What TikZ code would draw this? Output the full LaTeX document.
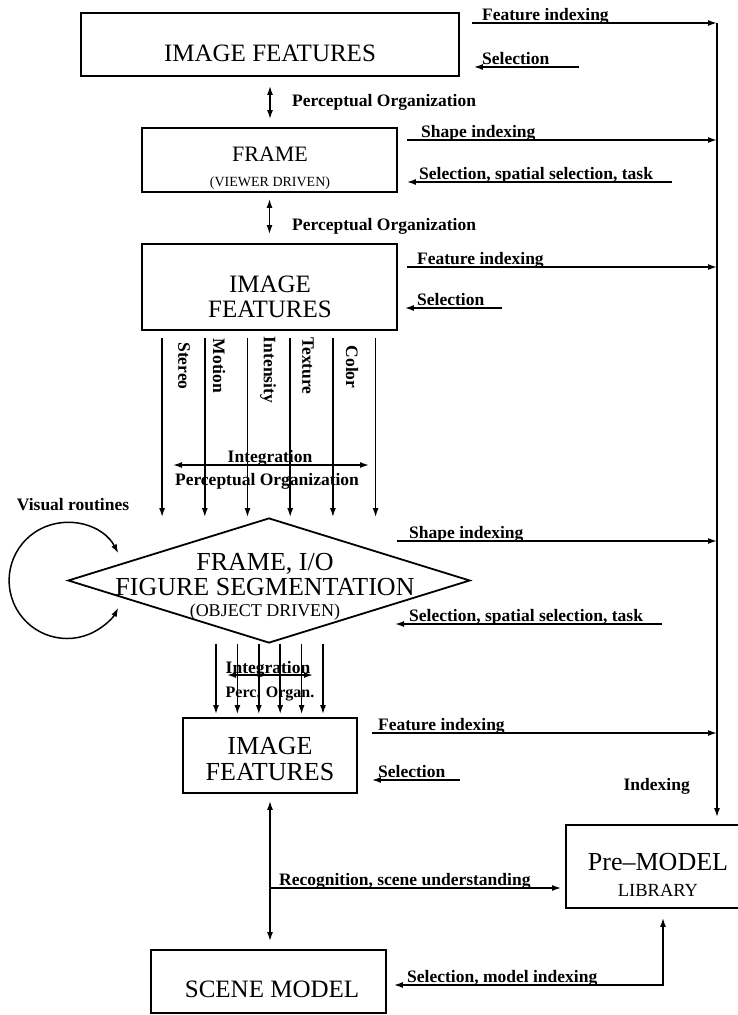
\documentclass[tikz,border=0pt]{standalone}
\usepackage{fontspec}
\setmainfont{Liberation Serif}
\usetikzlibrary{arrows.meta, positioning, shapes.geometric, calc}

\begin{document}
\begin{tikzpicture}[
    x=1pt, y=-1pt,
    box/.style={rectangle, draw, line width=1.8pt, inner sep=0pt},
    big/.style={inner sep=0pt, align=center, font=\fontsize{25}{25}\selectfont},
    lbl/.style={inner sep=0pt, anchor=base west, font=\fontsize{17.5}{19}\selectfont\bfseries},
    clbl/.style={inner sep=0pt, font=\fontsize{17.5}{19}\selectfont\bfseries},
    vlbl/.style={clbl, rotate=-90},
    arr/.style={-{Latex[length=9pt,width=6pt]}, line width=1.5pt},
    darr/.style={{Latex[length=9pt,width=6pt]}-{Latex[length=9pt,width=6pt]}, line width=1.5pt}
  ]
  \useasboundingbox (0,0) rectangle (738,1015);

  % left column: boxes and the diamond
  \node[box, minimum width=378pt, minimum height=63pt] (feat1) at (270,44.5) {};
  \node[big] (feat1t) at (270,53) {IMAGE FEATURES};

  \node[box, minimum width=255pt, minimum height=64pt] (frame) at (269.5,160) {};
  \node[big, font=\fontsize{22}{25}\selectfont] (framet) at (270,168)
    {FRAME\\{\fontsize{14}{16}\selectfont (VIEWER DRIVEN)}};

  \node[box, minimum width=255pt, minimum height=86pt] (feat2) at (269.5,287) {};
  \node[big] (feat2t) at (270,297) {IMAGE\\FEATURES};

  \node[diamond, draw, line width=1.8pt, minimum width=402pt, minimum height=125pt, inner sep=0pt] (seg) at (269,580.5) {};
  \node[big, font=\fontsize{26}{25}\selectfont] (segt) at (265,587)
    {FRAME, I/O\\FIGURE SEGMENTATION\\[-4pt]{\fontsize{18}{20}\selectfont (OBJECT DRIVEN)}};

  \node[box, minimum width=174pt, minimum height=75pt] (feat3) at (270,755.5) {};
  \node[big, font=\fontsize{26}{26}\selectfont] (feat3t) at (270,759.5) {IMAGE\\FEATURES};

  \node[box, minimum width=176pt, minimum height=83pt] (lib) at (654,866.5) {};
  \node[big, font=\fontsize{26}{25.5}\selectfont] (libt) at (658,875)
    {Pre--MODEL\\{\fontsize{18.5}{20}\selectfont LIBRARY}};

  \node[box, minimum width=235pt, minimum height=63pt] (scene) at (268.5,981.5) {};
  \node[big] (scenet) at (272,989) {SCENE MODEL};

  % perceptual organization between the levels
  \draw[darr, shorten <=9pt, shorten >=8pt] (feat1.south) -- (feat1.south |- frame.north);
  \node[lbl] (po1) at (292,106) {Perceptual Organization};
  \draw[darr, shorten <=6pt, shorten >=9pt] (frame.south) -- (frame.south |- feat2.north);
  \node[lbl] (po2) at (292,230) {Perceptual Organization};

  % cues down to the segmentation
  \foreach \i in {0,...,5} {
    \coordinate (cue\i) at ($(feat2.south west)+(21+42.7*\i,0)$);
    \draw[arr, shorten <=7pt] (cue\i) -- (cue\i |- seg.north);
  }
  \node[vlbl] (stereo) at (184,366) {Stereo};
  \node[vlbl] (motion) at (219,366) {Motion};
  \node[vlbl] (intens) at (268,370) {Intensity};
  \node[vlbl] (texture) at (308,366) {Texture};
  \node[vlbl] (color) at (352,367) {Color};

  \coordinate (intl) at (173,465);
  \coordinate (intr) at (369,465);
  \draw[darr] (intl) -- (intr);
  \node[clbl, anchor=base] (integ1) at (270,462) {Integration};
  \node[clbl, anchor=base] (po3) at (267,485) {Perceptual Organization};

  % visual routines loop
  \draw[darr] ([shift={(-28:58)}]seg.west) arc[start angle=-28, end angle=-332, radius=58];
  \node[clbl] (vr) at (73,505) {Visual routines};

  % segmentation down to the last features
  \foreach \i in {0,...,5} {
    \coordinate (sub\i) at ($(seg.south)+(-53+21.4*\i,0)$);
    \draw[arr, shorten >=3pt] (sub\i) -- (sub\i |- feat3.north);
  }
  \coordinate (intsl) at (227,675);
  \coordinate (intsr) at (313,675);
  \draw[darr] (intsl) -- (intsr);
  \node[clbl, anchor=base] (integ2) at (268,673) {Integration};
  \node[clbl, anchor=base, font=\fontsize{16}{18}\selectfont\bfseries] (po4) at (270,697) {Perc. Organ.};

  % indexing bus on the right
  \coordinate (bus) at (717,23);
  \draw[arr, shorten >=7pt] (bus) -- (bus |- lib.north);
  \node[lbl, anchor=base east] (idx) at (690,790) {Indexing};

  \coordinate (fi1) at (472,23);
  \draw[arr] (fi1) -- (fi1 -| bus);
  \node[lbl] (fi1t) at (482,20) {Feature indexing};
  \coordinate (se1) at (579,67);
  \draw[arr, shorten >=14pt] (se1) -- (se1 -| feat1.east);
  \node[lbl] (se1t) at (482,64) {Selection};

  \coordinate (si1) at (407,140);
  \draw[arr] (si1) -- (si1 -| bus);
  \node[lbl] (si1t) at (421,137) {Shape indexing};
  \coordinate (se2) at (672,182);
  \draw[arr, shorten >=9pt] (se2) -- (se2 -| frame.east);
  \node[lbl] (se2t) at (419,179) {Selection, spatial selection, task};

  \coordinate (fi2) at (407,267);
  \draw[arr] (fi2) -- (fi2 -| bus);
  \node[lbl] (fi2t) at (417,264) {Feature indexing};
  \coordinate (se3) at (502,308);
  \draw[arr, shorten >=7pt] (se3) -- (se3 -| feat2.east);
  \node[lbl] (se3t) at (417,305) {Selection};

  \coordinate (si2) at (397,541);
  \draw[arr] (si2) -- (si2 -| bus);
  \node[lbl] (si2t) at (409,538) {Shape indexing};
  \coordinate (se4) at (662,624);
  \coordinate (se4tip) at (395,624);
  \draw[arr] (se4) -- (se4tip);
  \node[lbl] (se4t) at (409,621) {Selection, spatial selection, task};

  \coordinate (fi3) at (372,733);
  \draw[arr] (fi3) -- (fi3 -| bus);
  \node[lbl] (fi3t) at (378,730) {Feature indexing};
  \coordinate (se5) at (460,780);
  \draw[arr, shorten >=14pt] (se5) -- (se5 -| feat3.east);
  \node[lbl] (se5t) at (378,777) {Selection};

  % recognition and scene model
  \draw[darr, shorten <=7pt, shorten >=8pt] (feat3.south) -- (feat3.south |- scene.north);
  \coordinate (rec) at (269,888);
  \draw[arr, shorten >=4pt] (rec) -- (rec -| lib.west);
  \node[lbl] (rect) at (279,885) {Recognition, scene understanding};

  \coordinate (sel6) at (663,985);
  \draw[darr, shorten <=7pt, shorten >=9pt] (sel6 -| scene.east) -- (sel6) -- (sel6 |- lib.south);
  \node[lbl] (sel6t) at (407,982) {Selection, model indexing};

\end{tikzpicture}
\end{document}
